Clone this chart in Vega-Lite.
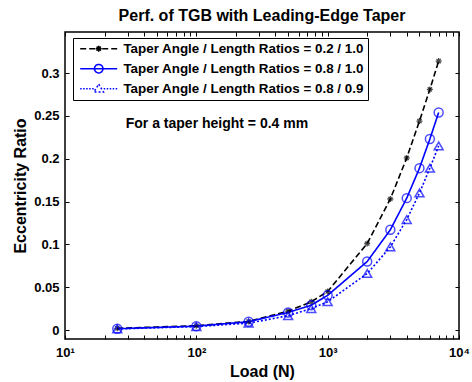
{
  "$schema": "https://vega.github.io/schema/vega-lite/v6.json",
  "width": 394,
  "height": 307,
  "autosize": {"type": "none"},
  "padding": {"left": 65, "top": 32, "right": 13, "bottom": 43},
  "background": "white",
  "config": {
    "font": "Liberation Sans",
    "view": {"stroke": "black", "strokeWidth": 1.5},
    "axis": {
      "grid": false, "domain": false, "tickColor": "black", "tickSize": -4, "tickWidth": 1,
      "labelColor": "black", "labelFont": "Liberation Sans", "labelFontWeight": "bold", "labelFontSize": 13,
      "titleFont": "Liberation Sans", "titleFontWeight": "bold", "titleFontSize": 16, "titleColor": "black"
    }
  },
  "title": {"text": "Perf. of TGB with Leading-Edge Taper", "fontSize": 16, "fontWeight": "bold", "font": "Liberation Sans", "color": "black", "anchor": "middle", "offset": 8},
  "data": {"values": [
    {"s": "0.2 / 1.0", "load": 25, "ecc": 0.002},
    {"s": "0.2 / 1.0", "load": 100, "ecc": 0.005},
    {"s": "0.2 / 1.0", "load": 250, "ecc": 0.010},
    {"s": "0.2 / 1.0", "load": 500, "ecc": 0.022},
    {"s": "0.2 / 1.0", "load": 750, "ecc": 0.033},
    {"s": "0.2 / 1.0", "load": 1000, "ecc": 0.045},
    {"s": "0.2 / 1.0", "load": 2000, "ecc": 0.101},
    {"s": "0.2 / 1.0", "load": 3000, "ecc": 0.153},
    {"s": "0.2 / 1.0", "load": 4000, "ecc": 0.201},
    {"s": "0.2 / 1.0", "load": 5000, "ecc": 0.244},
    {"s": "0.2 / 1.0", "load": 6000, "ecc": 0.281},
    {"s": "0.2 / 1.0", "load": 7000, "ecc": 0.314},
    {"s": "0.8 / 1.0", "load": 25, "ecc": 0.0015},
    {"s": "0.8 / 1.0", "load": 100, "ecc": 0.0045},
    {"s": "0.8 / 1.0", "load": 250, "ecc": 0.0097},
    {"s": "0.8 / 1.0", "load": 500, "ecc": 0.0205},
    {"s": "0.8 / 1.0", "load": 750, "ecc": 0.029},
    {"s": "0.8 / 1.0", "load": 1000, "ecc": 0.0405},
    {"s": "0.8 / 1.0", "load": 2000, "ecc": 0.080},
    {"s": "0.8 / 1.0", "load": 3000, "ecc": 0.117},
    {"s": "0.8 / 1.0", "load": 4000, "ecc": 0.154},
    {"s": "0.8 / 1.0", "load": 5000, "ecc": 0.189},
    {"s": "0.8 / 1.0", "load": 6000, "ecc": 0.223},
    {"s": "0.8 / 1.0", "load": 7000, "ecc": 0.254},
    {"s": "0.8 / 0.9", "load": 25, "ecc": 0.0012},
    {"s": "0.8 / 0.9", "load": 100, "ecc": 0.004},
    {"s": "0.8 / 0.9", "load": 250, "ecc": 0.008},
    {"s": "0.8 / 0.9", "load": 500, "ecc": 0.0167},
    {"s": "0.8 / 0.9", "load": 750, "ecc": 0.025},
    {"s": "0.8 / 0.9", "load": 1000, "ecc": 0.033},
    {"s": "0.8 / 0.9", "load": 2000, "ecc": 0.066},
    {"s": "0.8 / 0.9", "load": 3000, "ecc": 0.097},
    {"s": "0.8 / 0.9", "load": 4000, "ecc": 0.129},
    {"s": "0.8 / 0.9", "load": 5000, "ecc": 0.160},
    {"s": "0.8 / 0.9", "load": 6000, "ecc": 0.189},
    {"s": "0.8 / 0.9", "load": 7000, "ecc": 0.215}
  ]},
  "layer": [
    {
      "mark": {"type": "line", "strokeWidth": 1.6},
      "encoding": {
        "x": {"field": "load", "type": "quantitative", "scale": {"type": "log", "domain": [10, 10000], "nice": false},
          "axis": {"orient": "bottom", "values": [10,20,30,40,50,60,70,80,90,100,200,300,400,500,600,700,800,900,1000,2000,3000,4000,5000,6000,7000,8000,9000,10000],
            "labelExpr": "datum.value == 10 ? '10¹' : datum.value == 100 ? '10²' : datum.value == 1000 ? '10³' : datum.value == 10000 ? '10⁴' : ''",
            "labelOverlap": false, "labelFlush": false, "labelPadding": 11, "title": "Load (N)", "titlePadding": 4}},
        "y": {"field": "ecc", "type": "quantitative", "scale": {"domain": [-0.0105, 0.348], "nice": false, "zero": false},
          "axis": {"orient": "left", "values": [0, 0.05, 0.1, 0.15, 0.2, 0.25, 0.3], "format": ".2~f", "labelPadding": 10, "title": "Eccentricity Ratio", "titlePadding": 5}},
        "color": {"field": "s", "type": "nominal", "scale": {"domain": ["0.2 / 1.0", "0.8 / 1.0", "0.8 / 0.9"], "range": ["#000000", "#0000ff", "#0000ff"]},
          "legend": {"orient": "none", "legendX": 8, "legendY": 6, "title": null, "labelExpr": "'Taper Angle / Length Ratios = ' + datum.label",
            "labelFont": "Liberation Sans", "labelFontSize": 13.4, "labelFontWeight": "bold", "labelColor": "black", "labelLimit": 400,
            "strokeColor": "black", "fillColor": "white", "padding": 4, "rowPadding": 5, "symbolSize": 100, "symbolOffset": 15, "labelOffset": 18, "symbolStrokeWidth": 1.5,
            "encode": {"symbols": {"update": {"fill": {"value": "transparent"}, "opacity": {"value": 1}, "strokeDash": {"value": [1, 0]}}}}}},
        "strokeDash": {"field": "s", "type": "nominal", "scale": {"domain": ["0.2 / 1.0", "0.8 / 1.0", "0.8 / 0.9"], "range": [[6, 3], [1, 0], [2, 2]]}, "legend": null}
      }
    },
    {
      "transform": [{"filter": "datum.s == '0.2 / 1.0'"}],
      "mark": {"type": "point", "filled": false, "strokeWidth": 1.3, "size": 36, "shape": "M-1,0L1,0M0,-1L0,1M-0.7,-0.7L0.7,0.7M-0.7,0.7L0.7,-0.7"},
      "encoding": {
        "x": {"field": "load", "type": "quantitative", "axis": null},
        "y": {"field": "ecc", "type": "quantitative", "axis": null},
        "color": {"field": "s", "type": "nominal"}
      }
    },
    {
      "transform": [{"filter": "datum.s == '0.8 / 1.0'"}],
      "mark": {"type": "point", "filled": false, "strokeWidth": 1.5, "size": 80, "shape": "circle"},
      "encoding": {
        "x": {"field": "load", "type": "quantitative", "axis": null},
        "y": {"field": "ecc", "type": "quantitative", "axis": null},
        "color": {"field": "s", "type": "nominal"}
      }
    },
    {
      "transform": [{"filter": "datum.s == '0.8 / 0.9'"}],
      "mark": {"type": "point", "filled": false, "strokeWidth": 1.5, "size": 80, "shape": "triangle-up"},
      "encoding": {
        "x": {"field": "load", "type": "quantitative", "axis": null},
        "y": {"field": "ecc", "type": "quantitative", "axis": null},
        "color": {"field": "s", "type": "nominal"}
      }
    },
    {
      "mark": {"type": "point", "filled": false, "opacity": 0},
      "encoding": {
        "x": {"field": "load", "type": "quantitative",
          "axis": {"orient": "top", "values": [10,20,30,40,50,60,70,80,90,100,200,300,400,500,600,700,800,900,1000,2000,3000,4000,5000,6000,7000,8000,9000,10000], "labels": false, "title": null}},
        "y": {"field": "ecc", "type": "quantitative",
          "axis": {"orient": "right", "values": [0, 0.05, 0.1, 0.15, 0.2, 0.25, 0.3], "labels": false, "title": null}},
        "color": {"field": "s", "type": "nominal"},
        "shape": {"field": "s", "type": "nominal",
          "scale": {"domain": ["0.2 / 1.0", "0.8 / 1.0", "0.8 / 0.9"], "range": [
            "M-3.7,0L-2.5,0M-1.9,0L-0.7,0M0.7,0L1.9,0M2.5,0L3.7,0M-0.6,0L0.6,0M0,-0.6L0,0.6M-0.42,-0.42L0.42,0.42M-0.42,0.42L0.42,-0.42",
            "M-3.7,0L3.7,0M-0.85,0A0.85,0.85 0 1,1 0.85,0A0.85,0.85 0 1,1 -0.85,0",
            "M-3.7,0L-3.4,0M-3.1,0L-2.8,0M-2.5,0L-2.2,0M-1.9,0L-1.6,0M-1.3,0L-1.0,0M1.0,0L1.3,0M1.6,0L1.9,0M2.2,0L2.5,0M2.8,0L3.1,0M3.4,0L3.7,0M0,-0.9L0.95,0.65L-0.95,0.65Z"
          ]},
          "legend": {"orient": "none", "legendX": 8, "legendY": 6, "title": null, "labelExpr": "'Taper Angle / Length Ratios = ' + datum.label",
            "labelFont": "Liberation Sans", "labelFontSize": 13.4, "labelFontWeight": "bold", "labelColor": "black", "labelLimit": 400,
            "strokeColor": "black", "fillColor": "white", "padding": 4, "rowPadding": 5, "symbolSize": 100, "symbolOffset": 15, "labelOffset": 18, "symbolStrokeWidth": 1.5,
            "encode": {"symbols": {"update": {"fill": {"value": "transparent"}, "opacity": {"value": 1}, "strokeDash": {"value": [1, 0]}}}}}}
      }
    },
    {
      "data": {"values": [{"note": "For a taper height = 0.4 mm"}]},
      "mark": {"type": "text", "align": "left", "baseline": "middle", "font": "Liberation Sans", "fontSize": 14, "fontWeight": "bold", "color": "black"},
      "encoding": {
        "x": {"datum": 29, "type": "quantitative", "axis": null},
        "y": {"datum": 0.24, "type": "quantitative", "axis": null},
        "text": {"field": "note"}
      }
    }
  ],
  "resolve": {"axis": {"x": "independent", "y": "independent"}}
}
